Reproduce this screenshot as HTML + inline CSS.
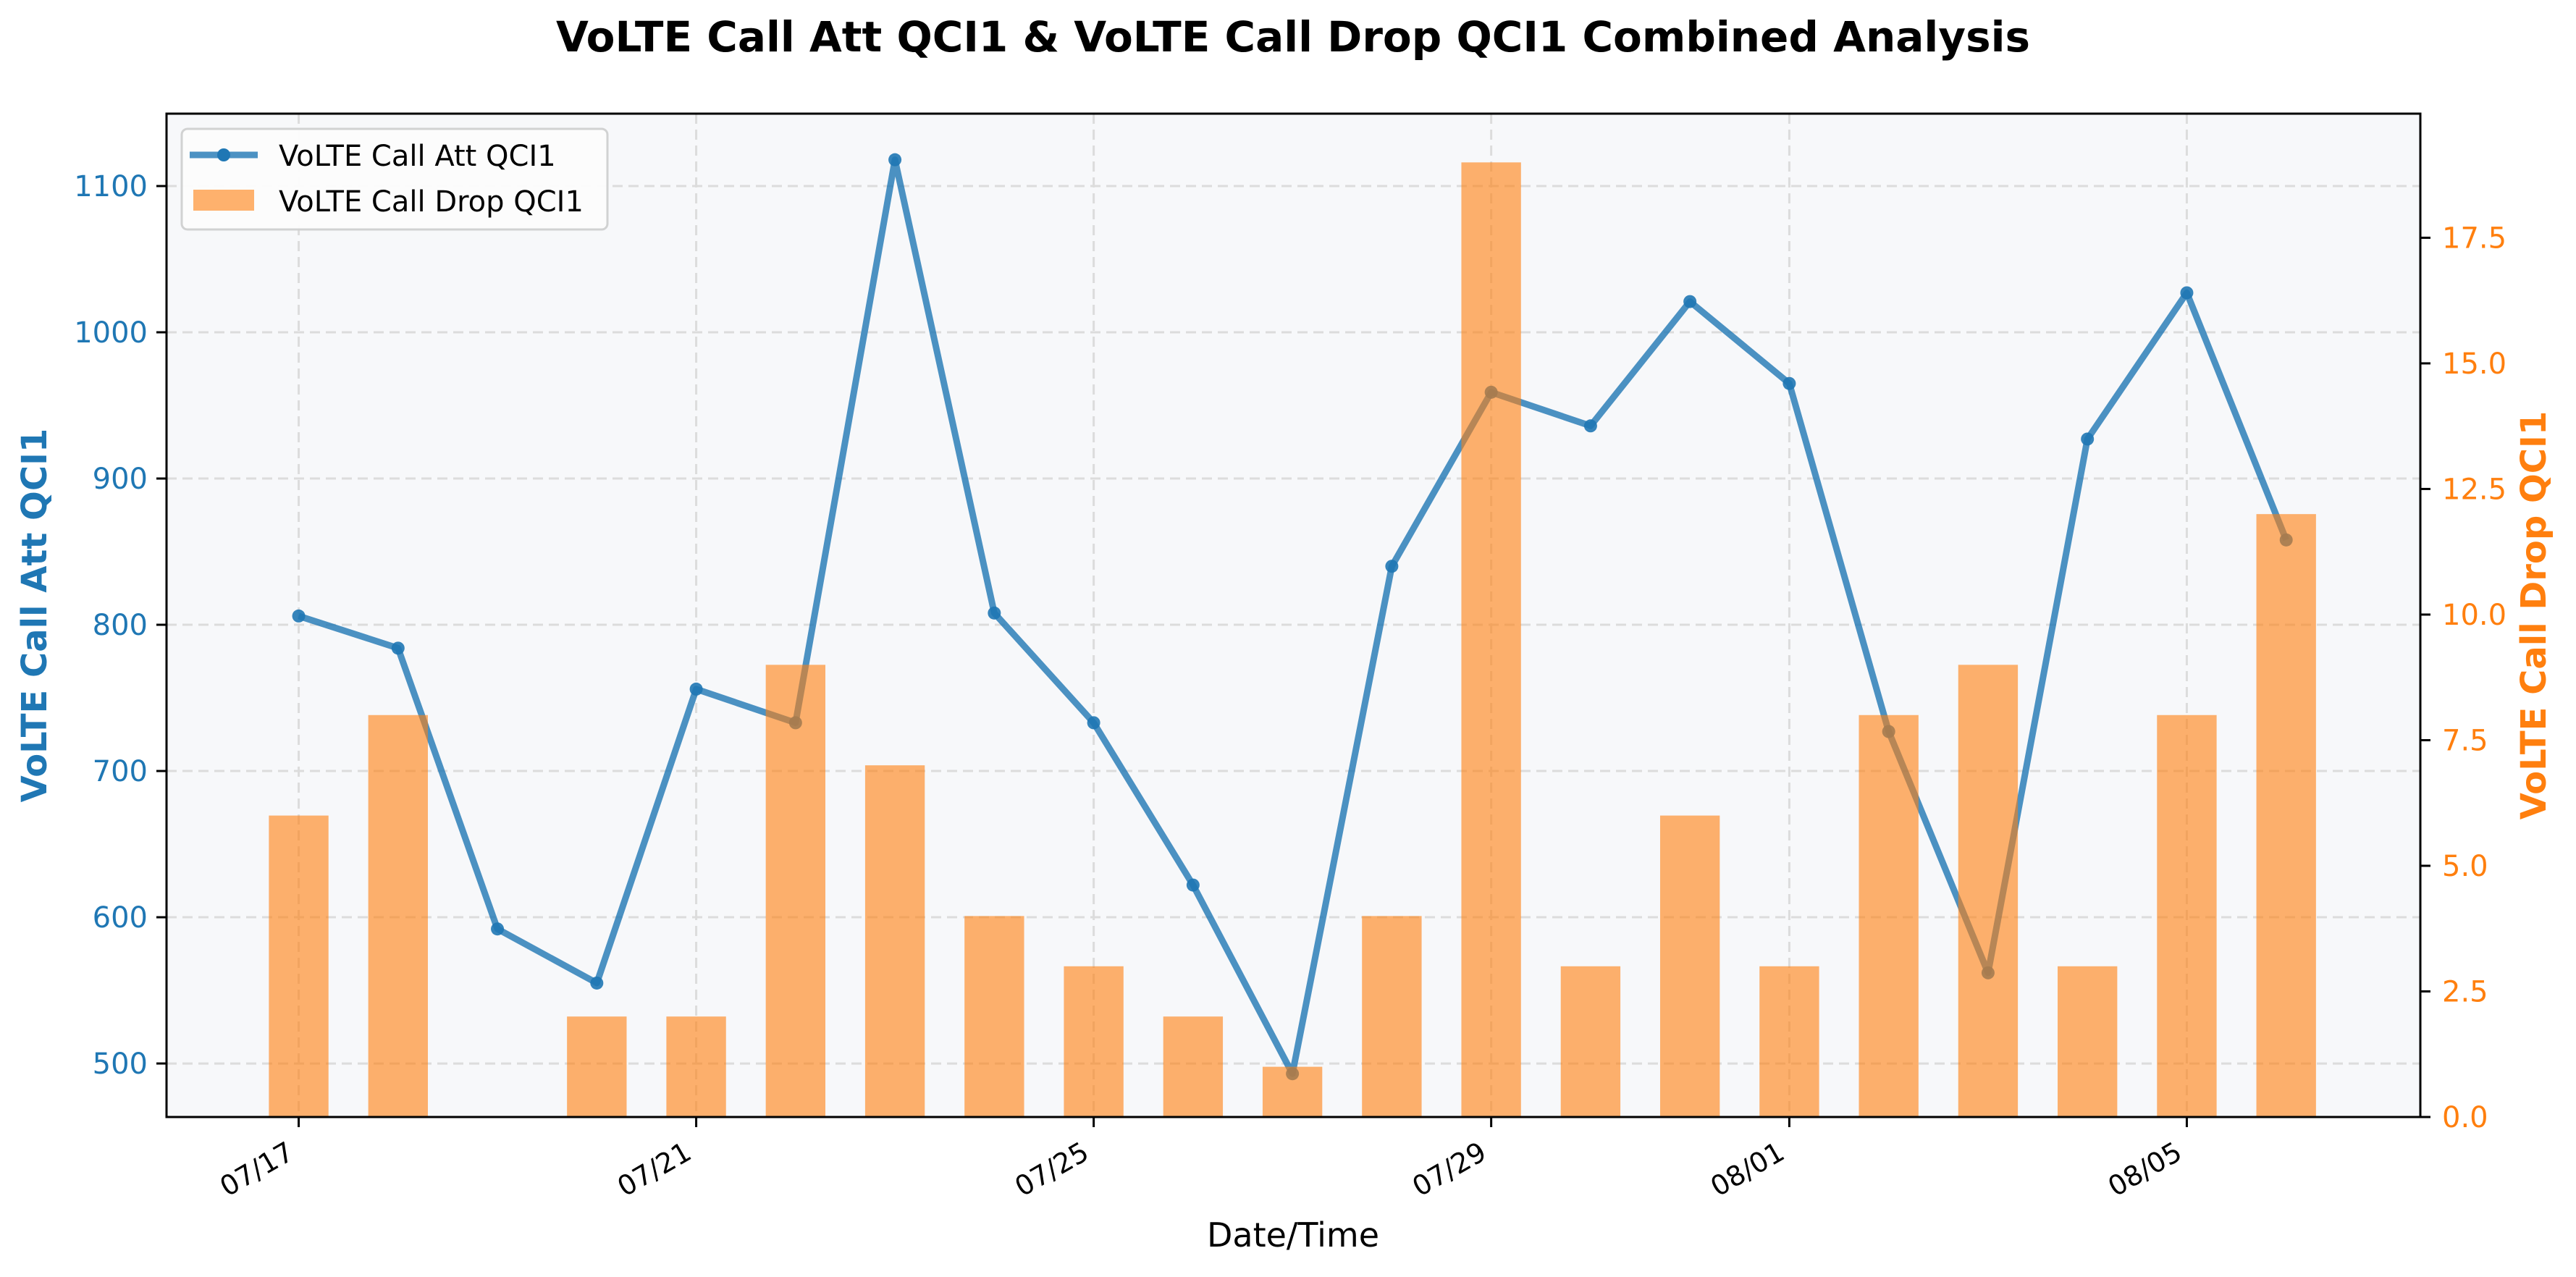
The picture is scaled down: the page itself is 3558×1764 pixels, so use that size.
<!DOCTYPE html>
<html><head><meta charset="utf-8">
<style>html,body{margin:0;padding:0;background:#fff;}svg{display:block;font-family:"DejaVu Sans","Liberation Sans",sans-serif;}</style>
</head><body>
<svg id="chart" width="3558" height="1764" viewBox="0 0 3558 1764" xmlns="http://www.w3.org/2000/svg">
<rect width="3558" height="1764" fill="#ffffff"/>
<text x="1786" y="71" text-anchor="middle" font-size="58" font-weight="bold" fill="#000">VoLTE Call Att QCI1 &amp; VoLTE Call Drop QCI1 Combined Analysis</text>
<rect x="230" y="157" width="3113" height="1386" fill="#f7f8fa"/>
<g id="grid"></g>
<g id="lineLayer"></g>
<g id="barLayer"></g>
<rect x="230" y="157" width="3113" height="1386" fill="none" stroke="#000" stroke-width="3"/>
<g id="axes"></g>
<text transform="translate(64,850) rotate(-90)" text-anchor="middle" font-size="48" font-weight="bold" fill="#1f77b4">VoLTE Call Att QCI1</text>
<text transform="translate(3516,850) rotate(-90)" text-anchor="middle" font-size="48" font-weight="bold" fill="#ff7f0e">VoLTE Call Drop QCI1</text>
<text x="1786" y="1722" text-anchor="middle" font-size="46" fill="#000">Date/Time</text>
<g>
<rect x="251" y="178" width="588" height="139" rx="8" fill="#fdfdfd" stroke="#d0d0d0" stroke-width="3" opacity="0.95"/>
<line x1="262" y1="214" x2="356" y2="214" stroke="#1f77b4" stroke-opacity="0.8" stroke-width="9"/>
<circle cx="309" cy="214" r="9" fill="#1f77b4"/>
<text x="385" y="229" font-size="40" fill="#000">VoLTE Call Att QCI1</text>
<rect x="267" y="262" width="84" height="29" fill="#ff7f0e" fill-opacity="0.6"/>
<text x="385" y="292" font-size="40" fill="#000">VoLTE Call Drop QCI1</text>
</g>
</svg>
<script>
const dates = ["07/17","07/18","07/19","07/20","07/21","07/22","07/23","07/24","07/25","07/26","07/27","07/28","07/29","07/30","07/31","08/01","08/02","08/03","08/04","08/05","08/06"];
const attValues = [806,784,592,555,756,733,1118,808,733,622,493,840,959,936,1021,965,727,562,927,1027,858];
const dropValues = [6,8,0,2,2,9,7,4,3,2,1,4,19,3,6,3,8,9,3,8,12];
const xTickLabels = ["07/17","07/21","07/25","07/29","08/01","08/05"];
const leftTicks = [500,600,700,800,900,1000,1100];
const rightTicks = [0,2.5,5,7.5,10,12.5,15,17.5];

const NS="http://www.w3.org/2000/svg";
const L=230,R=3343,T=157,B=1543;
const xMin=-1.33,xMax=21.35;
const xS=i=>L+(i-xMin)/(xMax-xMin)*(R-L);
const yMinL=463.4,yMaxL=1149.5;
const yL=v=>B-(v-yMinL)/(yMaxL-yMinL)*(B-T);
const yMaxR=19.97;
const yR=v=>B-v/yMaxR*(B-T);
function mk(tag,attrs,parent){const e=document.createElementNS(NS,tag);for(const k in attrs)e.setAttribute(k,attrs[k]);parent.appendChild(e);return e;}
const grid=document.getElementById('grid'),axes=document.getElementById('axes');
const lineLayer=document.getElementById('lineLayer'),barLayer=document.getElementById('barLayer');

leftTicks.forEach(v=>{
  const y=yL(v);
  const g=mk('line',{x1:L,x2:R,y1:y,y2:y,stroke:'#dcdcdc','stroke-width':3,'stroke-dasharray':'14,8'},grid);
  
  
  mk('line',{x1:L-14,x2:L,y1:y,y2:y,stroke:'#000','stroke-width':3},axes);
  const t=mk('text',{x:L-26,y:y+14,'text-anchor':'end','font-size':40,fill:'#1f77b4'},axes);
  t.textContent=v;
  
  
});
rightTicks.forEach(v=>{
  const y=yR(v);
  mk('line',{x1:R,x2:R+14,y1:y,y2:y,stroke:'#000','stroke-width':3},axes);
  const t=mk('text',{x:R+30,y:y+14,'text-anchor':'start','font-size':40,fill:'#ff7f0e'},axes);
  t.textContent=v.toFixed(1);
  
  
});
xTickLabels.forEach(lbl=>{
  const i=dates.indexOf(lbl);const x=xS(i);
  const g=mk('line',{x1:x,x2:x,y1:T,y2:B,stroke:'#dcdcdc','stroke-width':3,'stroke-dasharray':'14,8'},grid);
  
  
  mk('line',{x1:x,x2:x,y1:B,y2:B+14,stroke:'#000','stroke-width':3},axes);
  const t=mk('text',{x:x-4,y:B+56,'text-anchor':'end','font-size':38,fill:'#000',transform:`rotate(-30 ${x-4} ${B+56})`},axes);
  t.textContent=lbl;
  
  
});
const pts=attValues.map((v,i)=>xS(i)+','+yL(v)).join(' ');
const pl=mk('polyline',{points:pts,fill:'none',stroke:'#1f77b4','stroke-opacity':0.8,'stroke-width':9,'stroke-linejoin':'round'},lineLayer);


attValues.forEach((v,i)=>{
  const c=mk('circle',{cx:xS(i),cy:yL(v),r:9,fill:'#1f77b4','fill-opacity':0.9},lineLayer);
  
  
});
const bw=(xS(1)-xS(0))*0.6;
dropValues.forEach((v,i)=>{
  if(v<=0)return;
  const y=yR(v);
  const b=mk('rect',{x:xS(i)-bw/2,y:y,width:bw,height:B-y,fill:'#ff7f0e','fill-opacity':0.6},barLayer);
  
  
});
</script>
</body></html>
